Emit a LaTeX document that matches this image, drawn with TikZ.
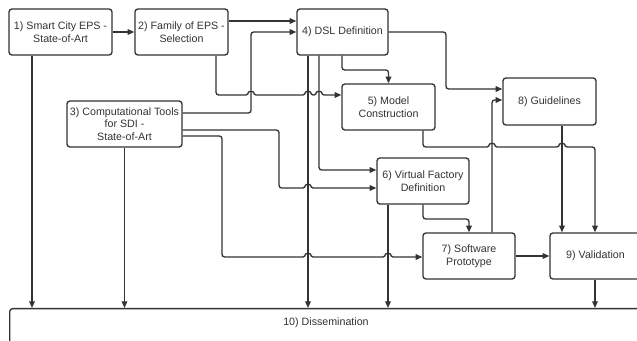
\documentclass[tikz,border=0pt]{standalone}
\usepackage{fontspec}
\setmainfont{Liberation Sans}
\usetikzlibrary{arrows.meta}
\definecolor{ln}{HTML}{333333}
\newcommand\hop[2]{-- (#1-2.6,#2) .. controls (#1-2.6,#2-3.8) and (#1+2.6,#2-3.8) .. (#1+2.6,#2)}
\begin{document}
\begin{tikzpicture}[x=0.75pt,y=-0.75pt,
  box/.style={draw=ln, line width=1pt, rounded corners=2.2pt, fill=white, align=center, inner sep=0pt, font=\fontsize{8}{9.4}\selectfont, text=ln},
  lbl/.style={align=center, inner sep=0pt, font=\fontsize{8}{9.4}\selectfont, text=ln},
  conn/.style={draw=ln, line width=1pt, rounded corners=2pt, -{Triangle[length=5pt,width=4.2pt]}}]
\useasboundingbox (0,0) rectangle (637,341);
\begin{scope}
\clip (0,0) rectangle (637,341);
\node[box, minimum width=103*0.75pt, minimum height=46*0.75pt] (n1) at (60.5,32) {1) Smart City EPS -\\State-of-Art};
\node[box, minimum width=93*0.75pt, minimum height=46*0.75pt] (n2) at (181.5,32) {2) Family of EPS -\\Selection};
\node[box, minimum width=91*0.75pt, minimum height=46*0.75pt] (n4) at (342.5,32) {4) DSL Definition};
\node[box, minimum width=115*0.75pt, minimum height=46*0.75pt] (n3) at (124.5,124) {3) Computational Tools\\for SDI -\\State-of-Art};
\node[box, minimum width=93*0.75pt, minimum height=46*0.75pt] (n5) at (388.5,107) {5) Model\\Construction};
\node[box, minimum width=93*0.75pt, minimum height=47*0.75pt] (n8) at (549.5,101.5) {8) Guidelines};
\node[box, minimum width=92*0.75pt, minimum height=46*0.75pt] (n6) at (423,181) {6) Virtual Factory\\Definition};
\node[box, minimum width=92*0.75pt, minimum height=46*0.75pt] (n7) at (469,256) {7) Software\\Prototype};
\node[box, minimum width=91*0.75pt, minimum height=46*0.75pt] (n9) at (595.5,256) {9) Validation};
\node[box, minimum width=634*0.75pt, minimum height=50*0.75pt, anchor=north west] (n10) at (9,308) {};
\node[lbl] (n10t) at (326,323) {10) Dissemination};

\draw[conn] (n1.east) -- (n2.west);
\draw[conn] (n2.east |- 0,21) -- (n4.west |- 0,21);
\draw[conn] (n3.east |- 0,113) -- (251,113) -- (251,32) -- (n4.west);
\draw[conn] (n2.south -| 216,0) -- (216,95) \hop{251}{95} \hop{308}{95} \hop{319}{95} -- (n5.west |- 0,95);
\draw[conn] (n1.south -| 32,0) -- (n10.north -| 32,0);
\draw[conn] (n3.south) -- (n10.north -| n3.south);
\draw[conn] (n3.east |- 0,130) -- (279,130) -- (279,188) \hop{308}{188} -- (n6.west |- 0,188);
\draw[conn] (n3.east |- 0,136) -- (222,136) -- (222,257) \hop{308}{257} \hop{388}{257} -- (n7.west |- 0,257);
\draw[conn] (n4.south -| 308,0) -- (n10.north -| 308,0);
\draw[conn] (n4.south -| 319,0) -- (319,170) -- (n6.west |- 0,170);
\draw[conn] (n4.south -| 342,0) -- (342,70) -- (388.5,70) -- (n5.north);
\draw[conn] (n4.east) -- (446,32) -- (446,89) -- (n8.west |- 0,89);
\draw[conn] (n7.north -| 492,0) -- (492,100) -- (n8.west |- 0,100);
\draw[conn] (n5.south -| 423,0) -- (423,147) \hop{492}{147} \hop{562}{147} -- (595,147) -- (n9.north -| 595,0);
\draw[conn] (n8.south -| 562,0) -- (n9.north -| 562,0);
\draw[conn] (n6.south -| 388,0) -- (n10.north -| 388,0);
\draw[conn] (n6.south) -- (423,219) -- (469,219) -- (n7.north);
\draw[conn] (n7.east) -- (n9.west);
\draw[conn] (n9.south -| 595,0) -- (n10.north -| 595,0);
\end{scope}
\end{tikzpicture}
\end{document}
